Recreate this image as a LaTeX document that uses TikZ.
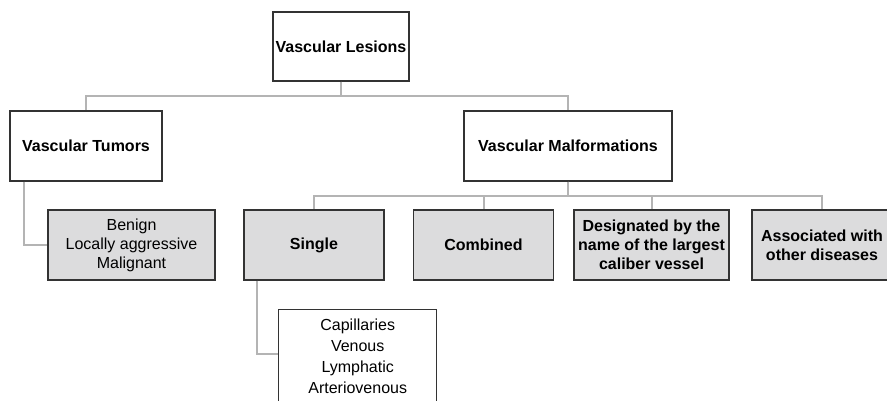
\documentclass[tikz,border=0pt]{standalone}
\usepackage{fontspec}
\setmainfont{Liberation Sans}
\usepackage{tikz}

\definecolor{boxline}{HTML}{333333}
\definecolor{linkgray}{HTML}{B4B4B4}
\definecolor{boxfill}{HTML}{DCDCDD}

\begin{document}
\begin{tikzpicture}[x=1pt, y=-1pt,
  box/.style = {draw=boxline, line width=1.2pt, minimum height=70pt, inner sep=2pt,
    align=center, font=\fontsize{16}{19}\selectfont},
  head/.style = {box, font=\fontsize{16}{19}\selectfont\bfseries},
  grey/.style = {fill=boxfill},
  link/.style = {draw=linkgray, line width=2pt}]

  \clip (0,0) rectangle (887,401);

% top level
  \node[head, minimum width=136pt, minimum height=69pt] (lesions) at (341,46.5) {Vascular Lesions};

% second level
  \node[head, minimum width=152pt] (tumors) at (86,146) {Vascular Tumors};
  \node[head, minimum width=208pt] (malf) at (568,146) {Vascular Malformations};

% third level
  \node[box, grey, minimum width=167pt] (benign) at (131.5,245) {Benign\\Locally aggressive\\Malignant};
  \node[head, grey, minimum width=140pt] (single) at (314,245) {Single};
  \node[head, grey, minimum width=140pt] (combined) at (483.5,245) {Combined};
  \node[head, grey, minimum width=155pt] (designated) at (651.5,245) {Designated by the\\name of the largest\\caliber vessel};
  \node[head, grey, minimum width=140pt] (associated) at (822,245) {Associated with\\other diseases};

% types of single
  \node[box, minimum width=158pt, minimum height=93pt, font=\fontsize{16}{21}\selectfont]
    (types) at (357.7,356) {Capillaries\\Venous\\Lymphatic\\Arteriovenous};

% links
  \draw[link] (lesions.south) -- ++(0,14.7) -| (tumors.north);
  \draw[link] (lesions.south) -- ++(0,14.7) -| (malf.north);
  \foreach \n in {single,combined,designated,associated}
    \draw[link] (malf.south) -- ++(0,14.3) -| (\n.north);
  \draw[link] ([xshift=15pt]tumors.south west) |- (benign.west);
  \draw[link] ([xshift=14pt]single.south west) |- ([yshift=1.7pt]types.west);

\end{tikzpicture}
\end{document}
